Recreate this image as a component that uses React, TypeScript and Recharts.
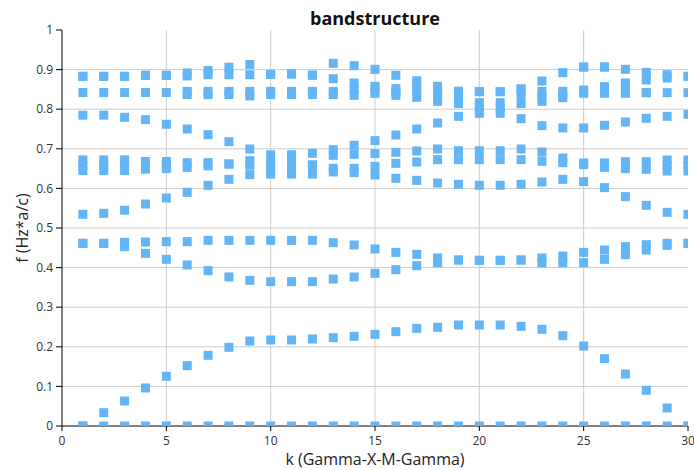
import React from 'react';
import { ScatterChart, Scatter, XAxis, YAxis, CartesianGrid, Label } from 'recharts';

const kPoints = [1, 2, 3, 4, 5, 6, 7, 8, 9, 10, 11, 12, 13, 14, 15, 16, 17, 18, 19, 20, 21, 22, 23, 24, 25, 26, 27, 28, 29, 30];

// bands sorted by frequency at each k point
const band1 = [0, 0, 0, 0, 0, 0, 0, 0, 0, 0, 0, 0, 0, 0, 0, 0, 0, 0, 0, 0, 0, 0, 0, 0, 0, 0, 0, 0, 0, 0];
const band2 = [0, 0.0337, 0.0631, 0.096, 0.1254, 0.1524, 0.1785, 0.1987, 0.2146, 0.2172, 0.2172, 0.2197, 0.2231, 0.2264, 0.2315, 0.2382, 0.2466, 0.2492, 0.255, 0.255, 0.255, 0.2517, 0.2441, 0.2281, 0.202, 0.1701, 0.1313, 0.0901, 0.0455, 0];
const band3 = [0.4613, 0.4613, 0.4529, 0.436, 0.4209, 0.4066, 0.3923, 0.3763, 0.3678, 0.3645, 0.3645, 0.3645, 0.3712, 0.3763, 0.3855, 0.3948, 0.4048, 0.4125, 0.4192, 0.4184, 0.4184, 0.4192, 0.4125, 0.4125, 0.4125, 0.4209, 0.4327, 0.4444, 0.4562, 0.4613];
const band4 = [0.4613, 0.4613, 0.4638, 0.4646, 0.4655, 0.4655, 0.4688, 0.4688, 0.4688, 0.4688, 0.4688, 0.4688, 0.463, 0.4571, 0.447, 0.4385, 0.4335, 0.4242, 0.4192, 0.4184, 0.4184, 0.4192, 0.4242, 0.4293, 0.4385, 0.4444, 0.4529, 0.4579, 0.4613, 0.4613];
const band5 = [0.5345, 0.537, 0.545, 0.5606, 0.5758, 0.59, 0.6077, 0.623, 0.6347, 0.636, 0.636, 0.636, 0.6415, 0.6398, 0.6339, 0.6255, 0.6204, 0.6137, 0.6103, 0.6078, 0.6078, 0.6103, 0.6162, 0.6229, 0.617, 0.6019, 0.5792, 0.5573, 0.5396, 0.5345];
const band6 = [0.645, 0.645, 0.645, 0.6485, 0.65, 0.653, 0.657, 0.6616, 0.6583, 0.652, 0.652, 0.659, 0.6507, 0.6507, 0.6558, 0.6633, 0.6667, 0.6726, 0.6726, 0.6726, 0.6726, 0.6726, 0.6684, 0.665, 0.66, 0.6532, 0.6499, 0.6482, 0.644, 0.644];
const band7 = [0.658, 0.658, 0.658, 0.658, 0.659, 0.665, 0.665, 0.6616, 0.67, 0.668, 0.668, 0.659, 0.6835, 0.6861, 0.6878, 0.6911, 0.6945, 0.6995, 0.6951, 0.6951, 0.6951, 0.6995, 0.6919, 0.6768, 0.6642, 0.6642, 0.6675, 0.6675, 0.658, 0.658];
const band8 = [0.672, 0.672, 0.672, 0.668, 0.668, 0.75, 0.7357, 0.718, 0.6995, 0.685, 0.685, 0.6886, 0.6978, 0.7088, 0.7206, 0.7349, 0.75, 0.7652, 0.782, 0.7896, 0.7896, 0.7761, 0.7585, 0.7526, 0.7526, 0.7593, 0.7677, 0.777, 0.6717, 0.6717];
const band9 = [0.785, 0.785, 0.7795, 0.7736, 0.762, 0.837, 0.837, 0.837, 0.8334, 0.837, 0.837, 0.837, 0.837, 0.8351, 0.8401, 0.8351, 0.83, 0.8199, 0.814, 0.803, 0.803, 0.814, 0.8199, 0.8292, 0.8401, 0.8401, 0.8401, 0.8418, 0.782, 0.7871];
const band10 = [0.842, 0.842, 0.842, 0.842, 0.842, 0.845, 0.845, 0.845, 0.845, 0.845, 0.845, 0.845, 0.845, 0.8507, 0.849, 0.8435, 0.844, 0.8325, 0.83, 0.8165, 0.8165, 0.8325, 0.8325, 0.837, 0.8485, 0.857, 0.8532, 0.8418, 0.8418, 0.8418];
const band11 = [0.883, 0.883, 0.883, 0.8856, 0.8856, 0.884, 0.887, 0.887, 0.887, 0.888, 0.889, 0.886, 0.877, 0.8662, 0.8578, 0.8519, 0.858, 0.8452, 0.8452, 0.8443, 0.8443, 0.851, 0.8452, 0.8452, 0.9066, 0.9066, 0.8662, 0.8738, 0.8788, 0.883];
const band12 = [0.883, 0.883, 0.883, 0.8856, 0.8856, 0.8915, 0.898, 0.906, 0.913, 0.888, 0.889, 0.886, 0.9158, 0.91, 0.9007, 0.8856, 0.872, 0.8578, 0.8452, 0.8443, 0.8443, 0.851, 0.8712, 0.8923, 0.9066, 0.9066, 0.9007, 0.8931, 0.8872, 0.883];

const bands = [band1, band2, band3, band4, band5, band6, band7, band8, band9, band10, band11, band12];

const xTicks = [0, 5, 10, 15, 20, 25, 30];
const yTicks = [0, 0.1, 0.2, 0.3, 0.4, 0.5, 0.6, 0.7, 0.8, 0.9, 1];

const MARKER = '#64B5F6';
const FONT = '"Open Sans", "Noto Sans", sans-serif';

const SquareMarker = (props: any) => {
  const { cx, cy } = props;
  if (cx == null || cy == null) return null;
  return <rect x={cx - 4.5} y={cy - 4.5} width={9} height={9} fill={MARKER} />;
};

const fmtY = (v: number) => (v === 0 ? '0' : v === 1 ? '1' : v.toFixed(1));

export default function App() {
  const series = bands.map((b) => b.map((f, i) => ({ k: kPoints[i], f })));
  return (
    <div style={{ position: 'absolute', left: 0, top: 0, width: 694, height: 470, background: '#fff', fontFamily: FONT }}>
      <div
        style={{
          position: 'absolute',
          left: 62,
          width: 626,
          top: 9,
          textAlign: 'center',
          fontSize: 18,
          lineHeight: '18px',
          fontWeight: 700,
          color: '#111',
          fontFamily: FONT,
        }}
      >
        bandstructure
      </div>
      <ScatterChart width={694} height={470} margin={{ top: 30, right: 6, bottom: 0, left: 0 }}>
        <CartesianGrid
          stroke="#cccccc"
          horizontalValues={[0.1, 0.2, 0.3, 0.4, 0.5, 0.6, 0.7, 0.8, 0.9]}
          verticalValues={[5, 10, 15, 20, 25]}
        />
        <XAxis
          type="number"
          dataKey="k"
          domain={[0, 30]}
          ticks={xTicks}
          allowDataOverflow
          height={44}
          tickSize={5}
          tickMargin={5}
          axisLine={{ stroke: '#000' }}
          tickLine={{ stroke: '#000' }}
          tick={{ fill: '#333', fontSize: 12, fontFamily: FONT }}
        >
          <Label
            content={(p: any) => {
              const vb = p.viewBox || { x: 62, y: 426, width: 626, height: 44 };
              return (
                <text x={vb.x + vb.width / 2} y={vb.y + 39} textAnchor="middle" fontSize={16} fill="#222" fontFamily={FONT}>
                  k (Gamma-X-M-Gamma)
                </text>
              );
            }}
          />
        </XAxis>
        <YAxis
          type="number"
          dataKey="f"
          domain={[0, 1]}
          ticks={yTicks}
          allowDataOverflow
          width={62}
          tickSize={6}
          tickMargin={3}
          tickFormatter={fmtY}
          axisLine={{ stroke: '#000' }}
          tickLine={{ stroke: '#000' }}
          tick={{ fill: '#333', fontSize: 12, fontFamily: FONT }}
        >
          <Label
            content={(p: any) => {
              const vb = p.viewBox || { x: 0, y: 30, width: 62, height: 396 };
              const cy = vb.y + vb.height / 2;
              return (
                <text transform={`translate(28, ${cy}) rotate(-90)`} textAnchor="middle" fontSize={16} fill="#222" fontFamily={FONT}>
                  f (Hz*a/c)
                </text>
              );
            }}
          />
        </YAxis>
        {series.map((d, i) => (
          <Scatter key={i} data={d} fill={MARKER} shape={SquareMarker} isAnimationActive={false} />
        ))}
      </ScatterChart>
    </div>
  );
}
